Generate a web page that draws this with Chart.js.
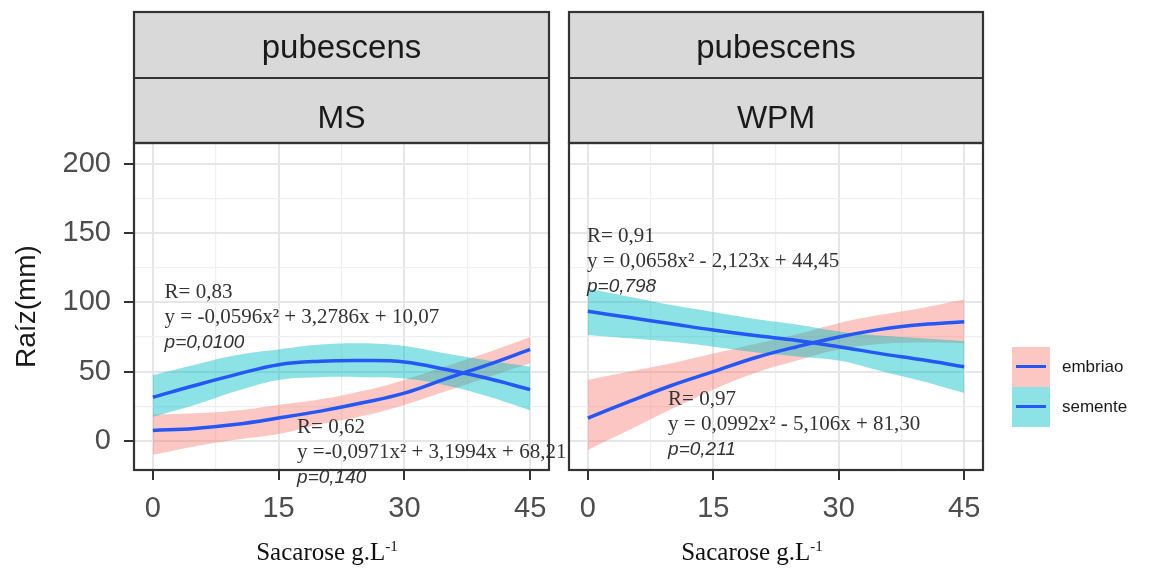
<!DOCTYPE html>
<html>
<head>
<meta charset="utf-8">
<script src="https://cdn.jsdelivr.net/npm/chart.js@4.4.0/dist/chart.umd.min.js"></script>
<style>
  body { margin: 0; background: #fff; width: 1150px; height: 570px; overflow: hidden; position: relative; font-family: "Liberation Sans", Arial, sans-serif; }
  canvas { position: absolute; top: 0; }
  #msChart { left: 0; }
  #wpmChart { left: 555px; }
  .xtitle { position: absolute; top: 537px; font: 25px "Liberation Serif", "Times New Roman", serif; color: #111; line-height: 30px; white-space: nowrap; transform: translateX(-50%); }
  .xtitle sup { font-size: 15px; vertical-align: 9px; line-height: 0; }
  .key { position: absolute; left: 1012px; width: 38px; height: 40px; }
  .key i { position: absolute; left: 4px; right: 4px; top: 18px; height: 3px; background: #2457f5; }
  .lab { position: absolute; left: 1062px; font-size: 17px; line-height: 20px; color: #1a1a1a; }
</style>
</head>
<body>
<canvas id="msChart" width="590" height="570"></canvas>
<canvas id="wpmChart" width="595" height="570"></canvas>

<div class="xtitle" style="left:327px">Sacarose g.L<sup>-1</sup></div>
<div class="xtitle" style="left:752px">Sacarose g.L<sup>-1</sup></div>

<div class="key" style="top:347px; background:rgba(248,118,109,0.42)"><i></i></div>
<div class="key" style="top:387px; background:rgba(0,191,196,0.45)"><i></i></div>
<div class="lab" style="top:357px">embriao</div>
<div class="lab" style="top:397px">semente</div>

<script>
// sucrose levels (g/L) where the fitted curves were read
var sacarose = [0, 5, 10, 15, 20, 25, 30, 35, 40, 45];

// MS medium
var msEmbriao     = [7.5, 9, 12, 16.5, 21.5, 27.5, 34.5, 45, 55, 66];
var msEmbriaoLow  = [-10, -4, 1, 5, 12, 18, 26, 36, 46, 56];
var msEmbriaoHigh = [19, 20, 22, 26, 30, 36, 44, 54, 64, 75];
var msSemente     = [31.5, 40, 48, 55, 57.5, 58, 57, 51.5, 45, 37];
var msSementeLow  = [17.5, 26, 36, 44, 46, 46, 45, 40, 32, 22];
var msSementeHigh = [47.5, 55, 62, 66, 69.5, 70.5, 68.5, 63, 58, 53.5];

// WPM medium
var wpmEmbriao     = [16.5, 28.5, 40, 50, 60, 68, 75, 80.5, 84, 86];
var wpmEmbriaoLow  = [-6.5, 8, 23, 37, 49, 58, 66, 70, 71, 70.5];
var wpmEmbriaoHigh = [44, 50, 56, 63, 70, 77, 85, 91, 96, 102];
var wpmSemente     = [93.5, 89, 84.5, 80, 76, 72.5, 68, 63, 58.5, 53.5];
var wpmSementeLow  = [76.5, 74, 71.5, 68, 64, 61, 58, 50.5, 43, 34.5];
var wpmSementeHigh = [110, 104, 98, 93, 88, 84, 79, 76, 74, 72];

var xTickValues = [0, 15, 30, 45];
var yTickValues = [0, 50, 100, 150, 200];

var PINK = 'rgba(248,118,109,0.42)';
var CYAN = 'rgba(0,191,196,0.45)';
var BLUE = '#2457f5';

// major breaks plus the minor ones halfway between them
function withMinor(major) {
    var out = [];
    for (var i = 0; i < major.length; i++) {
        out.push(major[i]);
        if (i < major.length - 1) out.push((major[i] + major[i + 1]) / 2);
    }
    return out;
}

function pts(values) {
    return values.map(function (v, i) { return { x: sacarose[i], y: v }; });
}

function band(values, fillTarget, color, order) {
    return {
        data: pts(values),
        borderWidth: 0,
        borderColor: 'rgba(0,0,0,0)',
        backgroundColor: color,
        fill: fillTarget,
        tension: 0.4,
        order: order
    };
}

function curve(values) {
    return {
        data: pts(values),
        borderColor: BLUE,
        borderWidth: 3.5,
        fill: false,
        tension: 0.4,
        order: 0
    };
}

// strips, panel border and the regression notes
var facetFrame = {
    id: 'facetFrame',
    afterDraw: function (chart, args, opts) {
        var ctx = chart.ctx, a = chart.chartArea;
        var w = a.right - a.left;
        var stripTop = a.top - 131, mid = a.top - 65;
        ctx.save();
        ctx.fillStyle = '#d9d9d9';
        ctx.fillRect(a.left, stripTop, w, a.top - stripTop);
        ctx.strokeStyle = '#333';
        ctx.lineWidth = 2.2;
        ctx.strokeRect(a.left, stripTop, w, a.top - stripTop);
        ctx.beginPath();
        ctx.moveTo(a.left, mid);
        ctx.lineTo(a.right, mid);
        ctx.stroke();
        ctx.strokeRect(a.left, a.top, w, a.bottom - a.top);

        ctx.fillStyle = '#1a1a1a';
        ctx.textAlign = 'center';
        ctx.textBaseline = 'alphabetic';
        ctx.font = '33px "Liberation Sans", Arial, sans-serif';
        ctx.fillText(opts.strips[0], (a.left + a.right) / 2, a.top - 85);
        ctx.font = '32px "Liberation Sans", Arial, sans-serif';
        ctx.fillText(opts.strips[1], (a.left + a.right) / 2, a.top - 15);

        var xs = chart.scales.x, ys = chart.scales.y;
        ctx.textAlign = 'left';
        ctx.textBaseline = 'middle';
        ctx.fillStyle = '#333';
        opts.notes.forEach(function (n) {
            var px = xs.getPixelForValue(n.x), py = ys.getPixelForValue(n.y);
            n.lines.forEach(function (t, i) {
                ctx.font = i === 2 ? 'italic 19px "Liberation Sans", Arial, sans-serif'
                                   : '21px "Liberation Serif", "Times New Roman", serif';
                ctx.fillText(t, px, py + i * 25);
            });
        });
        ctx.restore();
    }
};

function buildPanel(id, series, opts) {
    var xGrid = withMinor(xTickValues);
    var yGrid = withMinor(yTickValues);
    var isMajorX = function (v) { return xTickValues.indexOf(v) !== -1; };
    var isMajorY = function (v) { return yTickValues.indexOf(v) !== -1; };

    return new Chart(document.getElementById(id).getContext('2d'), {
        type: 'line',
        data: {
            datasets: [
                band(series[1], false, 'rgba(0,0,0,0)', 2),
                band(series[2], 0, PINK, 2),
                band(series[4], false, 'rgba(0,0,0,0)', 1),
                band(series[5], 2, CYAN, 1),
                curve(series[0]),
                curve(series[3])
            ]
        },
        plugins: [facetFrame],
        options: {
            responsive: false,
            animation: false,
            devicePixelRatio: 1,
            layout: { padding: { top: 143, right: opts.padRight, left: 0, bottom: 0 } },
            elements: { point: { radius: 0 } },
            plugins: {
                legend: { display: false },
                tooltip: { enabled: false },
                facetFrame: { strips: opts.strips, notes: opts.notes }
            },
            scales: {
                x: {
                    type: 'linear',
                    min: -2.25,
                    max: 47.25,
                    afterBuildTicks: function (s) { s.ticks = xGrid.map(function (v) { return { value: v }; }); },
                    afterFit: function (s) { s.height = 100; },
                    border: { display: false },
                    grid: {
                        color: function (c) { return c.tick && isMajorX(c.tick.value) ? '#e6e6e6' : '#efefef'; },
                        lineWidth: function (c) { return c.tick && isMajorX(c.tick.value) ? 2 : 1.2; },
                        tickLength: 10,
                        tickWidth: 2,
                        tickColor: function (c) { return c.tick && isMajorX(c.tick.value) ? '#333' : 'rgba(0,0,0,0)'; }
                    },
                    ticks: {
                        autoSkip: false,
                        maxRotation: 0,
                        padding: 12,
                        color: '#4d4d4d',
                        font: { size: 29, family: '"Liberation Sans", Arial, sans-serif' },
                        callback: function (v) { return isMajorX(v) ? String(v) : ''; }
                    }
                },
                y: {
                    min: -21,
                    max: 215,
                    afterBuildTicks: function (s) { s.ticks = yGrid.map(function (v) { return { value: v }; }); },
                    afterFit: function (s) { s.width = opts.yWidth; },
                    border: { display: false },
                    title: {
                        display: opts.showY,
                        text: 'Raíz(mm)',
                        color: '#1a1a1a',
                        font: { size: 28, family: '"Liberation Sans", Arial, sans-serif' },
                        padding: { top: 10 }
                    },
                    grid: {
                        color: function (c) { return c.tick && isMajorY(c.tick.value) ? '#e6e6e6' : '#efefef'; },
                        lineWidth: function (c) { return c.tick && isMajorY(c.tick.value) ? 2 : 1.2; },
                        drawTicks: opts.showY,
                        tickLength: 10,
                        tickWidth: 2,
                        tickColor: function (c) { return c.tick && isMajorY(c.tick.value) ? '#333' : 'rgba(0,0,0,0)'; }
                    },
                    ticks: {
                        display: opts.showY,
                        autoSkip: false,
                        padding: 13,
                        color: '#4d4d4d',
                        font: { size: 29, family: '"Liberation Sans", Arial, sans-serif' },
                        callback: function (v) { return isMajorY(v) ? String(v) : ''; }
                    }
                }
            }
        }
    });
}

buildPanel('msChart',
    [msEmbriao, msEmbriaoLow, msEmbriaoHigh, msSemente, msSementeLow, msSementeHigh],
    {
        padRight: 41, yWidth: 134, showY: true,
        strips: ['pubescens', 'MS'],
        notes: [
            { x: 1.4, y: 107, lines: ['R= 0,83', 'y = -0,0596x² + 3,2786x + 10,07', 'p=0,0100'] },
            { x: 17.2, y: 9.4, lines: ['R= 0,62', 'y =-0,0971x² + 3,1994x + 68,21', 'p=0,140'] }
        ]
    });

buildPanel('wpmChart',
    [wpmEmbriao, wpmEmbriaoLow, wpmEmbriaoHigh, wpmSemente, wpmSementeLow, wpmSementeHigh],
    {
        padRight: 167, yWidth: 14, showY: false,
        strips: ['pubescens', 'WPM'],
        notes: [
            { x: -0.1, y: 147.3, lines: ['R= 0,91', 'y = 0,0658x² - 2,123x + 44,45', 'p=0,798'] },
            { x: 9.6, y: 29.6, lines: ['R= 0,97', 'y = 0,0992x² - 5,106x + 81,30', 'p=0,211'] }
        ]
    });
</script>
</body>
</html>
